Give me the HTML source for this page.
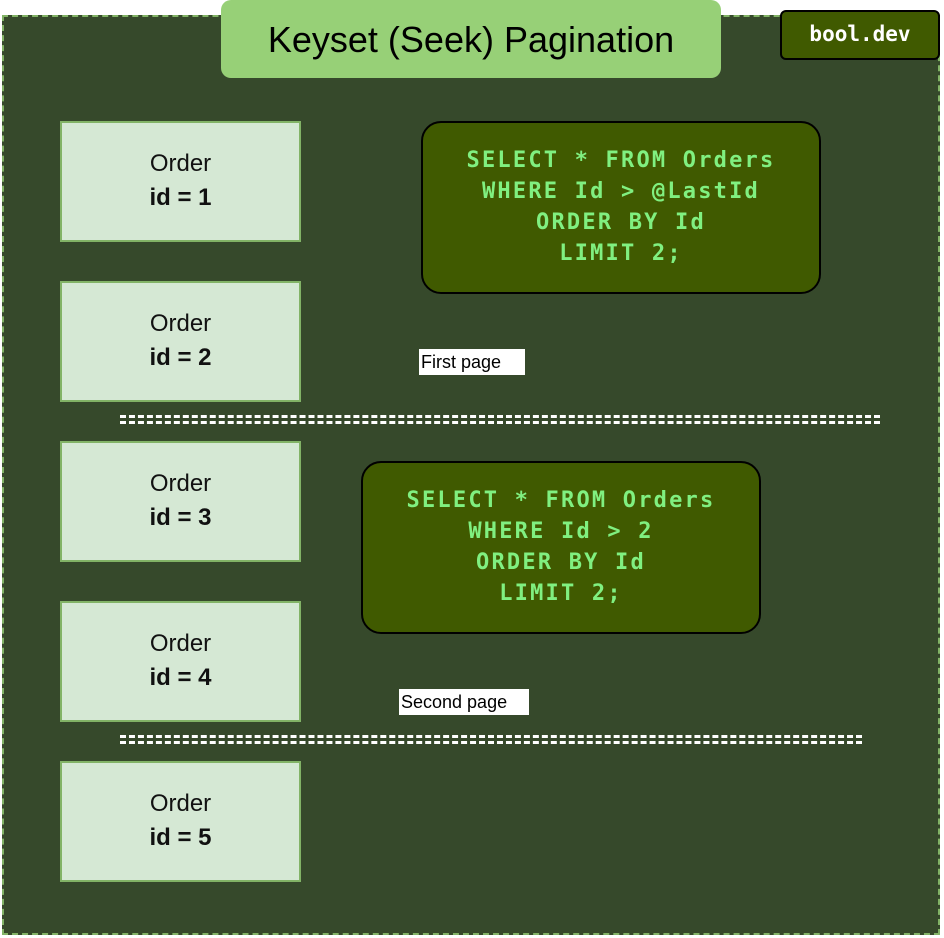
<!DOCTYPE html>
<html><head><style>
body{margin:0;width:944px;height:938px;background:#fff;position:relative;overflow:hidden;font-family:"Liberation Sans",sans-serif}
.a{position:absolute;box-sizing:border-box}
.bg{left:2px;top:15px;width:938px;height:920px;background:#36492b;border:2px dashed #82b366}
.ord{left:60px;width:241px;height:121px;background:#d5e8d4;border:2px solid #82b366;text-align:center;font-size:24px;line-height:34px;padding-top:24px;color:#111}
.sql{background:#405a00;border:2px solid #000;border-radius:20px;color:#80f080;font-family:"DejaVu Sans Mono",monospace;font-weight:bold;font-size:22px;letter-spacing:2.2px;line-height:31px;text-align:center;padding-top:22px}
.dash{height:9px;border-top:3px dashed #fff;border-bottom:3px dashed #fff}
.lbl{background:#fff;color:#000;font-size:18px;line-height:26px;padding:0 2px}
</style></head><body>
<div class="a bg"></div>
<div class="a" style="left:221px;top:0;width:500px;height:78px;background:#97d077;border-radius:10px;text-align:center;font-size:36px;line-height:80px;color:#000">Keyset (Seek) Pagination</div>
<div class="a" style="left:780px;top:10px;width:160px;height:50px;background:#405a00;border:2px solid #000;border-radius:6px;color:#fff;font-family:'DejaVu Sans Mono',monospace;font-weight:bold;font-size:21px;line-height:44px;text-align:center">bool.dev</div>
<div class="a ord" style="top:121px">Order<br><b>id = 1</b></div>
<div class="a ord" style="top:281px">Order<br><b>id = 2</b></div>
<div class="a ord" style="top:441px">Order<br><b>id = 3</b></div>
<div class="a ord" style="top:601px">Order<br><b>id = 4</b></div>
<div class="a ord" style="top:761px">Order<br><b>id = 5</b></div>
<div class="a sql" style="left:421px;top:121px;width:400px;height:173px">SELECT * FROM Orders<br>WHERE Id &gt; @LastId<br>ORDER BY Id<br>LIMIT 2;</div>
<div class="a sql" style="left:361px;top:461px;width:400px;height:173px">SELECT * FROM Orders<br>WHERE Id &gt; 2<br>ORDER BY Id<br>LIMIT 2;</div>
<div class="a lbl" style="left:419px;top:349px;width:106px">First page</div>
<div class="a lbl" style="left:399px;top:689px;width:130px">Second page</div>
<div class="a dash" style="left:120px;top:415px;width:760px"></div>
<div class="a dash" style="left:120px;top:735px;width:742px"></div>
</body></html>
